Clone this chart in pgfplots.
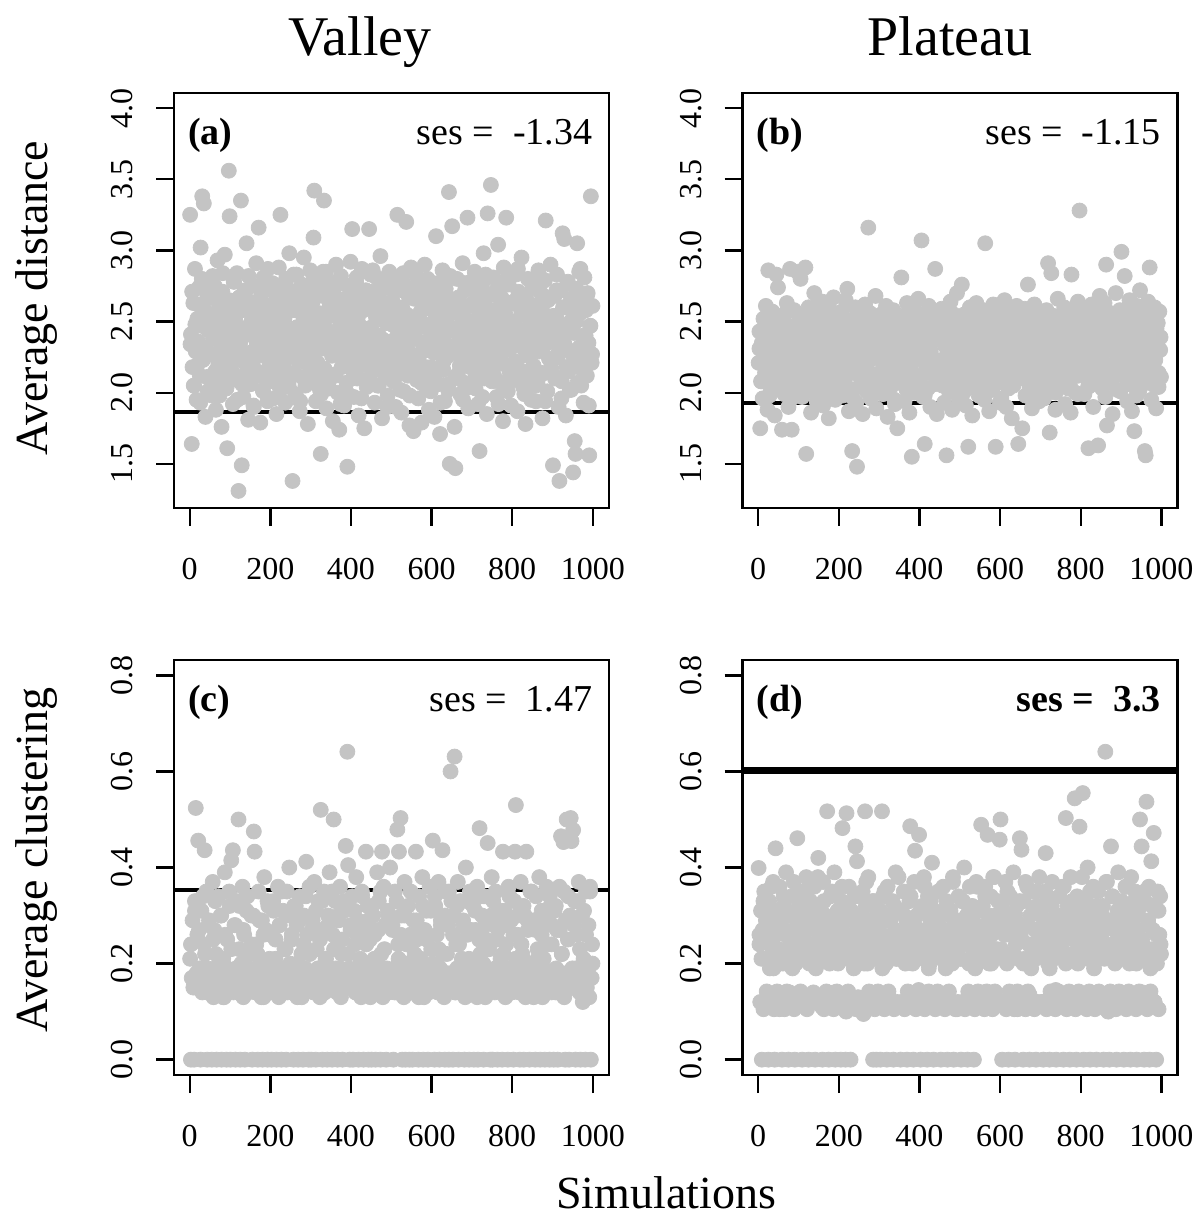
\documentclass[border=0pt]{standalone}
\usepackage{fontspec}
\setmainfont{Liberation Serif}
\usepackage{pgfplots}
\usepackage{pgfplotstable}
\pgfplotsset{compat=1.18}
\definecolor{ptgray}{RGB}{196,196,196}

% Panel (a): Valley, average distance (y values in simulation order)
\pgfplotstableread{
y
3.25
2.41
1.64
2.18
2.63
2.05
2.87
2.29
1.95
2.52
2.36
2.74
2.12
3.02
2.47
3.38
2.23
3.33
2.58
1.83
2.31
2.69
2.01
2.44
2.79
2.27
2.55
1.98
2.82
2.39
2.14
2.66
1.88
2.48
2.93
2.21
2.60
2.08
2.35
1.76
2.71
2.43
2.16
2.97
2.57
2.03
1.61
2.33
3.56
3.24
2.62
2.19
2.45
1.92
2.78
2.30
2.51
2.09
2.84
2.37
1.31
2.67
2.24
3.35
1.49
2.58
1.97
2.41
2.72
2.13
3.05
2.46
1.81
2.28
2.64
2.06
2.49
2.75
2.22
1.90
2.59
2.38
2.91
2.15
2.53
3.16
2.32
1.79
2.68
2.44
2.02
2.81
2.26
2.55
2.11
2.73
1.94
2.40
2.61
2.17
2.50
2.20
2.77
1.96
2.42
2.63
2.10
1.85
2.56
2.34
2.88
2.04
3.25
2.47
2.29
2.70
2.18
2.52
1.93
2.80
2.36
2.65
2.07
2.98
2.25
2.43
2.71
1.38
2.14
2.58
2.30
1.99
2.83
2.46
2.23
2.62
1.87
2.37
2.76
2.11
2.54
2.95
2.28
2.05
2.67
2.40
1.78
2.59
2.19
2.86
2.33
2.12
2.64
3.09
3.42
2.48
1.94
2.73
2.21
2.56
2.39
2.02
1.57
2.69
2.31
2.85
3.35
2.16
2.52
1.89
2.44
2.78
2.08
2.61
2.35
2.57
2.26
1.80
2.70
2.42
2.13
2.90
2.36
2.00
2.60
1.74
2.47
2.82
2.18
2.54
2.29
1.91
2.66
2.39
2.07
1.48
2.75
2.32
2.50
2.92
2.24
3.15
2.49
1.97
2.63
2.35
2.77
2.10
2.53
1.84
2.41
2.68
2.19
2.87
2.30
2.58
1.75
2.45
2.72
2.04
2.38
2.61
3.15
2.27
2.83
2.46
2.15
2.71
2.33
1.93
2.58
2.81
2.22
2.40
2.05
2.67
2.96
2.29
1.82
2.52
2.37
2.74
2.11
2.49
2.62
1.98
2.35
2.85
2.20
2.56
2.31
2.64
2.08
2.47
2.80
1.90
2.39
3.25
2.17
2.55
2.72
2.26
1.86
2.60
2.43
2.01
2.76
2.34
3.20
2.50
2.12
2.68
1.77
2.41
2.88
2.53
2.20
1.73
2.66
2.38
2.83
2.09
2.45
1.96
2.71
2.27
2.57
1.79
2.35
2.62
2.14
2.90
2.48
2.03
2.75
2.30
1.88
2.59
2.42
2.18
2.40
2.69
2.11
1.83
2.52
3.10
2.29
2.77
2.06
2.44
1.71
2.61
2.35
2.86
2.16
2.55
1.94
2.73
2.25
2.48
2.02
3.41
1.50
2.64
2.33
3.17
2.28
2.58
1.76
1.47
2.43
2.80
2.13
2.67
2.37
1.99
2.54
2.21
2.91
2.46
2.07
2.72
2.32
2.60
3.23
1.89
2.50
2.18
2.78
2.39
2.62
2.24
2.49
2.85
2.03
2.70
2.36
1.92
2.57
1.59
2.15
2.44
2.76
2.31
2.98
2.10
2.65
2.41
1.85
3.26
2.53
2.27
2.69
3.46
2.19
2.45
2.81
2.12
2.58
2.34
1.97
2.73
3.04
2.26
2.51
2.07
2.67
2.39
1.80
2.88
2.20
2.55
3.23
2.43
2.01
2.76
2.30
2.63
1.91
2.48
2.37
2.64
2.09
2.50
2.83
2.22
1.87
2.71
2.44
2.16
2.59
2.95
2.32
2.04
2.68
2.40
1.78
2.55
2.27
2.80
2.13
2.47
2.62
1.95
2.35
2.52
2.19
2.74
2.38
1.94
2.61
2.06
2.86
2.29
2.48
2.70
2.14
1.82
2.56
2.33
2.79
3.21
2.42
2.01
2.65
2.24
2.51
2.90
2.17
2.45
1.49
2.36
2.68
2.11
2.54
2.83
2.25
1.90
1.38
2.46
2.72
2.08
3.12
2.39
3.08
2.60
1.84
2.31
2.77
2.15
2.49
2.02
2.66
2.28
2.57
1.44
2.42
1.66
1.57
2.73
3.05
2.18
2.55
2.32
2.87
2.05
2.64
2.40
1.93
2.81
2.26
2.58
2.12
2.70
2.35
1.56
2.47
3.38
2.21
2.61
}\dA

% Panel (a), further simulations in the dense core (every 4th)
\pgfplotstableread{
y
2.34
2.71
2.05
2.48
2.19
2.62
1.93
2.80
2.27
2.53
2.11
2.44
2.67
2.02
2.38
2.75
2.16
2.57
1.98
2.31
2.84
2.23
2.49
2.09
2.65
2.41
2.14
2.78
2.29
1.95
2.59
2.36
2.06
2.70
2.45
2.18
2.82
2.26
2.51
1.91
2.63
2.33
2.12
2.74
2.47
2.01
2.56
2.30
2.87
2.20
2.52
2.08
2.39
2.69
2.24
1.97
2.61
2.43
2.15
2.77
2.35
2.04
2.58
2.28
2.83
2.13
2.46
2.66
1.94
2.37
2.22
2.72
2.50
2.07
2.60
2.25
2.79
2.42
2.10
2.55
2.32
1.99
2.68
2.17
2.85
2.40
2.03
2.64
2.29
2.54
2.12
2.76
2.38
1.92
2.49
2.21
2.62
2.00
2.45
2.73
2.36
2.14
2.57
2.81
2.23
2.47
1.96
2.66
2.31
2.09
2.70
2.44
2.19
2.86
2.27
2.53
2.05
2.40
2.63
2.16
2.78
2.34
1.90
2.58
2.26
2.48
2.71
2.11
2.35
2.60
2.02
2.42
2.84
2.20
2.55
2.30
1.98
2.67
2.13
2.39
2.75
2.24
2.51
2.07
2.64
2.33
2.18
2.80
2.46
2.01
2.59
2.28
2.15
2.73
2.37
1.93
2.52
2.22
2.69
2.43
2.06
2.82
2.31
2.56
2.10
2.45
2.65
2.19
2.38
1.95
2.77
2.27
2.50
2.04
2.62
2.32
2.76
2.12
2.47
2.25
2.61
1.97
2.40
2.83
2.17
2.54
2.35
2.08
2.70
2.29
2.44
1.92
2.66
2.21
2.57
2.03
2.79
2.36
2.14
2.49
2.63
2.20
2.41
2.87
2.09
2.55
2.33
1.99
2.68
2.26
2.46
2.16
2.74
2.39
2.05
2.58
2.30
2.81
2.13
2.51
1.94
2.42
2.67
2.23
2.37
2.54
2.10
2.72
2.28
2.45
1.96
2.60
2.34
2.18
2.78
2.43
2.02
2.65
2.24
2.50
2.07
2.85
2.32
2.57
2.15
2.40
2.69
1.91
2.47
2.27
}\dAx

% Panel (b): Plateau, average distance
\pgfplotstableread{
y
2.21
2.43
1.75
2.08
2.35
1.96
2.52
2.27
2.14
2.61
2.39
1.88
2.86
2.18
2.47
2.02
2.30
2.57
2.11
2.41
1.84
2.25
2.83
2.33
2.74
2.37
2.05
2.48
2.19
1.74
2.29
2.54
1.99
2.40
2.12
2.63
2.33
1.90
2.24
2.87
2.45
1.74
2.07
2.36
2.58
2.16
2.43
2.01
2.85
2.28
2.15
2.42
2.80
2.26
1.97
2.50
2.34
2.09
2.88
1.57
2.38
2.20
2.60
2.03
2.46
1.86
2.31
2.55
2.13
2.70
2.23
2.44
1.94
2.36
2.62
2.32
2.06
2.49
2.18
2.64
1.91
2.39
2.27
2.53
2.00
2.44
2.12
1.82
2.35
2.58
2.22
2.47
2.04
2.67
2.30
1.95
2.41
2.16
2.52
2.26
2.44
2.11
2.36
2.57
1.98
2.29
2.48
2.07
2.65
2.21
2.73
2.40
1.87
2.15
2.51
2.33
1.59
2.02
2.45
2.25
2.60
1.93
1.48
2.38
2.17
2.28
2.53
2.09
2.39
1.85
2.46
2.19
2.62
2.34
2.01
2.42
3.16
2.24
2.56
1.96
2.31
2.13
2.49
2.05
2.37
2.68
1.89
2.27
2.43
2.10
2.40
2.14
2.55
2.23
1.99
2.47
2.32
2.08
2.61
2.36
1.83
2.20
2.50
2.29
2.04
2.42
2.17
2.58
2.35
1.92
2.26
2.45
1.75
2.12
2.53
2.19
2.46
2.81
2.30
2.06
2.52
1.94
2.38
2.15
2.63
2.27
2.43
1.86
2.11
2.34
1.55
2.49
2.22
2.00
2.57
2.33
2.41
2.09
2.66
2.25
2.35
2.10
3.07
2.44
1.97
2.28
1.64
2.54
2.18
2.39
2.03
2.61
2.31
1.90
2.47
2.24
2.56
2.13
2.37
2.87
2.20
1.85
2.50
2.42
2.07
2.48
2.23
2.59
2.05
2.36
1.93
2.44
2.16
1.56
2.52
2.29
2.01
2.40
2.64
2.12
1.88
2.33
2.55
2.21
2.46
2.08
2.70
2.27
1.96
2.38
2.17
2.42
2.76
2.31
2.00
2.55
2.25
1.91
2.47
2.11
1.62
2.37
2.60
2.19
2.44
1.84
2.28
2.51
2.06
2.34
2.63
2.14
2.40
1.98
2.53
2.30
2.05
2.49
2.22
2.58
1.95
3.05
2.38
2.13
2.45
2.27
1.87
2.54
2.18
2.35
2.02
2.62
2.41
2.24
1.62
2.46
2.10
2.32
2.57
1.93
2.43
2.16
2.52
2.29
2.07
2.65
2.36
1.90
2.21
2.48
2.03
2.39
2.57
2.14
1.82
2.33
2.50
2.25
2.42
2.09
2.61
2.19
1.64
2.37
2.55
2.26
2.47
1.75
2.12
2.38
2.59
1.98
2.31
2.44
2.76
2.20
2.04
2.53
2.35
1.89
2.41
2.17
2.62
2.28
2.46
2.08
2.34
2.56
1.94
2.23
2.39
2.14
2.51
2.27
1.96
2.44
2.06
2.58
2.32
2.91
2.19
1.72
2.47
2.84
2.24
2.02
2.54
2.36
1.88
2.42
2.11
2.66
2.29
2.49
2.15
2.33
2.08
2.45
2.21
2.60
1.92
2.37
2.15
2.52
2.03
2.41
2.28
1.86
2.83
2.47
2.18
2.56
2.30
2.00
2.43
2.25
2.64
2.12
3.28
2.38
2.46
2.20
2.53
2.34
1.99
2.40
2.13
2.59
2.27
1.61
2.44
2.05
2.36
2.62
2.17
1.90
2.49
2.23
2.31
2.55
2.09
1.63
2.42
2.68
2.29
2.24
2.50
2.11
2.38
2.63
1.97
2.90
1.77
2.32
2.45
2.07
2.56
2.19
2.41
1.85
2.29
2.52
2.14
2.70
2.36
2.02
2.47
2.25
2.58
2.16
2.99
2.35
2.12
2.48
2.82
2.22
2.57
1.94
2.40
2.06
2.65
2.30
2.44
1.87
2.18
2.53
1.73
2.37
2.09
2.61
2.26
2.46
2.01
2.72
2.33
2.42
2.19
2.55
2.31
1.59
1.56
2.47
2.07
2.64
2.28
2.88
2.39
1.95
2.52
2.14
2.43
2.60
2.23
1.89
2.36
2.49
2.04
2.57
2.30
2.11
}\dB

% Panel (b), further simulations in the dense core (every 5th)
\pgfplotstableread{
y
2.31
2.08
2.45
2.19
2.52
1.98
2.37
2.26
2.14
2.49
2.03
2.41
2.22
2.56
2.11
2.34
1.96
2.47
2.29
2.17
2.53
2.06
2.39
2.24
2.44
2.12
2.50
2.01
2.36
2.27
2.58
2.15
2.42
1.99
2.33
2.20
2.48
2.09
2.38
2.25
2.54
2.04
2.30
2.46
2.13
2.40
1.97
2.35
2.21
2.51
2.18
2.43
2.07
2.32
2.55
2.23
2.10
2.47
2.00
2.37
2.28
2.16
2.52
2.05
2.41
2.26
2.34
1.95
2.49
2.19
2.44
2.12
2.39
2.02
2.57
2.30
2.14
2.46
2.24
2.08
2.53
2.35
1.98
2.42
2.17
2.29
2.50
2.06
2.38
2.21
2.45
2.11
2.33
2.55
2.03
2.40
2.27
2.15
2.48
1.99
2.36
2.22
2.51
2.09
2.43
2.18
2.31
2.04
2.56
2.25
2.39
2.13
2.47
2.01
2.34
2.20
2.52
2.07
2.44
2.28
1.96
2.37
2.16
2.49
2.23
2.41
2.05
2.32
2.54
2.19
2.46
2.10
2.38
2.26
1.97
2.50
2.14
2.43
2.02
2.35
2.57
2.21
2.30
2.08
2.45
2.17
2.39
2.00
2.53
2.27
2.12
2.48
2.24
2.36
2.06
2.51
2.19
2.42
1.99
2.33
2.15
2.55
2.29
2.04
2.44
2.22
2.37
2.11
2.49
2.26
2.03
2.40
2.18
2.52
2.09
2.46
2.31
2.13
2.54
2.01
2.38
2.25
2.43
2.07
2.35
2.20
2.50
1.98
2.41
2.16
2.47
2.28
2.10
2.56
2.23
2.34
2.05
2.45
2.14
2.39
}\dBx

% Panel (c): Valley, average clustering
\pgfplotstableread{
y
0.21
0
0.17
0.29
0.15
0
0.33
0.524
0.18
0.26
0.456
0.16
0.19
0
0.31
0.14
0.18
0.24
0.436
0.16
0.35
0
0.19
0.28
0.15
0.18
0.15
0
0.37
0.13
0.27
0.19
0.22
0
0.16
0.34
0.14
0.18
0.30
0
0.17
0.21
0.13
0.39
0.16
0
0.25
0.18
0.15
0.32
0
0.415
0.17
0.436
0.14
0.28
0
0.19
0.33
0.16
0.50
0.23
0
0.15
0.18
0.36
0.13
0.26
0
0.17
0.31
0.19
0.14
0.22
0.16
0.19
0.30
0
0.16
0.475
0.433
0.14
0.24
0.18
0
0.35
0.15
0.20
0.17
0.29
0
0.13
0.38
0.18
0.27
0.16
0
0.32
0.14
0.19
0.26
0
0.15
0.33
0.18
0.14
0.21
0
0.17
0.36
0.13
0.28
0.19
0
0.16
0.31
0.15
0.23
0.18
0
0.35
0.14
0.17
0.40
0.20
0.17
0.25
0.14
0
0.32
0.19
0.16
0.28
0.13
0
0.18
0.34
0.15
0.22
0.17
0
0.30
0.14
0.19
0.412
0.26
0.16
0
0.36
0.18
0
0.16
0.29
0.14
0.37
0.18
0
0.23
0.15
0.33
0.19
0.13
0.52
0.27
0
0.17
0.35
0.14
0.21
0.18
0
0.30
0.16
0.39
0.15
0.18
0
0.26
0.50
0.15
0.33
0.19
0.14
0
0.29
0.17
0.36
0.13
0.22
0
0.16
0.31
0.18
0.445
0.15
0.641
0.405
0.19
0
0.27
0.15
0.34
0
0.18
0.24
0.14
0.38
0.17
0.29
0
0.16
0.21
0.13
0.35
0.19
0
0.27
0.15
0.433
0.18
0.32
0
0.14
0.25
0.17
0
0.19
0.30
0.14
0.26
0
0.17
0.39
0.15
0.33
0.18
0
0.22
0.433
0.13
0.36
0.16
0.28
0
0.19
0.31
0.14
0.17
0.40
0.15
0.18
0.27
0
0.15
0.35
0.19
0.14
0.479
0.24
0.433
0.16
0.503
0.30
0
0.17
0.13
0.37
0
0.20
0.15
0.32
0.18
0
0.26
0.14
0.16
0
0.29
0.14
0.19
0.433
0.25
0.17
0
0.34
0.15
0.21
0.18
0.38
0
0.13
0.27
0.16
0.31
0.19
0
0.14
0.36
0.17
0.23
0.18
0.456
0.15
0
0.32
0.17
0.26
0.14
0.37
0
0.19
0.29
0.16
0.436
0.22
0.13
0
0.35
0.18
0.15
0.28
0
0.17
0.600
0.33
0.16
0
0.30
0.631
0.14
0.24
0.19
0.37
0
0.17
0.33
0.15
0.21
0.18
0.28
0
0.13
0.40
0.16
0.26
0.19
0
0.35
0.14
0.18
0.19
0.32
0
0.15
0.27
0.17
0.36
0
0.14
0.482
0.22
0.18
0.30
0.16
0
0.34
0.13
0.25
0.19
0.451
0.15
0.29
0
0.17
0.38
0
0.17
0.28
0.14
0.35
0.19
0
0.27
0.16
0.28
0.21
0.15
0
0.433
0.18
0.31
0.13
0.24
0.17
0
0.36
0.15
0.19
0.29
0.14
0.18
0
0.33
0.433
0.530
0.15
0.26
0.19
0.14
0
0.37
0.17
0.22
0.16
0
0.30
0.13
0.433
0.19
0.27
0.15
0
0.35
0.17
0.20
0.15
0.29
0.18
0
0.34
0.14
0.21
0.17
0.38
0
0.16
0.26
0.13
0.19
0.31
0
0.17
0.36
0.15
0.24
0.18
0
0.32
0.14
0.28
0.17
0
0.31
0.14
0.19
0.27
0
0.16
0.36
0.15
0.465
0.22
0.18
0.453
0.13
0
0.29
0.50
0.17
0.34
0
0.15
0.503
0.455
0.19
0.478
0.18
0.33
0
0.15
0.26
0.19
0.37
0.14
0
0.17
0.30
0.12
0.21
0.16
0
0.35
0.15
0.19
0.28
0.13
0.36
0
0.17
0.20
}\dC

% Panel (c), further simulations (every 5th)
\pgfplotstableread{
y
0.24
0.17
0.31
0.15
0.27
0.19
0.34
0.22
0.14
0.29
0.18
0.25
0.33
0.16
0.21
0.30
0.13
0.26
0.19
0.35
0.23
0.15
0.28
0.17
0.32
0.20
0.27
0.14
0.34
0.18
0.24
0.30
0.16
0.22
0.29
0.13
0.26
0.19
0.33
0.21
0.15
0.31
0.25
0.17
0.28
0.35
0.14
0.23
0.18
0.30
0.26
0.16
0.32
0.20
0.29
0.13
0.24
0.34
0.18
0.22
0.27
0.15
0.31
0.19
0.25
0.33
0.14
0.21
0.28
0.17
0.35
0.23
0.16
0.30
0.19
0.25
0.33
0.15
0.22
0.28
0.18
0.31
0.14
0.26
0.20
0.34
0.17
0.24
0.29
0.13
0.32
0.21
0.16
0.27
0.35
0.19
0.23
0.15
0.30
0.18
0.28
0.14
0.33
0.21
0.26
0.17
0.30
0.24
0.16
0.35
0.19
0.22
0.29
0.13
0.27
0.32
0.18
0.25
0.15
0.31
0.20
0.34
0.17
0.23
0.28
0.16
0.30
0.22
0.35
0.18
0.26
0.14
0.32
0.24
0.19
0.29
0.15
0.33
0.21
0.27
0.17
0.31
0.13
0.25
0.34
0.20
0.28
0.16
0.23
0.30
0.33
0.19
0.25
0.15
0.31
0.22
0.28
0.17
0.34
0.14
0.26
0.21
0.30
0.18
0.24
0.32
0.16
0.29
0.20
0.35
0.13
0.27
0.23
0.18
0.31
0.21
0.29
0.16
0.34
0.24
0.18
0.32
0.14
0.27
0.22
0.35
0.17
0.25
0.30
0.15
0.28
0.19
0.33
0.23
0.16
0.31
0.26
0.20
0.35
0.24
}\dCx

% Panel (d): Plateau, average clustering
\pgfplotstableread{
y
0.399
0.24
0.12
0.31
0
0.27
0.105
0.35
0.21
0.29
0.142
0.25
0
0.33
0.19
0.12
0.28
0.22
0.37
0.105
0
0.44
0.26
0.142
0.30
0.23
0.36
0.12
0.28
0
0.20
0.32
0.105
0.26
0.39
0.142
0.22
0
0.30
0.24
0.12
0.34
0.19
0.27
0.105
0
0.31
0.23
0.461
0.12
0.29
0.21
0.142
0.35
0
0.25
0.12
0.31
0.22
0.38
0.105
0.27
0
0.20
0.33
0.12
0.24
0.29
0.14
0.36
0
0.23
0.12
0.28
0.42
0.26
0.12
0.32
0.21
0
0.37
0.105
0.24
0.30
0.142
0.517
0.27
0
0.20
0.34
0.12
0.23
0.29
0.105
0.39
0
0.25
0.142
0.31
0.22
0.24
0.12
0
0.33
0.482
0.21
0.105
0.29
0
0.513
0.26
0.142
0.36
0.22
0
0.31
0.12
0.25
0.19
0.34
0.444
0.105
0.413
0.28
0.23
0.30
0.21
0.12
0.27
0.35
0.095
0.24
0.517
0.32
0.105
0.20
0.38
0.142
0.26
0.29
0.12
0.22
0
0.33
0.105
0.25
0
0.30
0.142
0.21
0.27
0
0.12
0.517
0.34
0.23
0.105
0.30
0.20
0
0.36
0.142
0.25
0.29
0.12
0.22
0.33
0
0.105
0.27
0.39
0.21
0.12
0.31
0.24
0.22
0
0.31
0.12
0.26
0.35
0.105
0.20
0.29
0
0.142
0.24
0.33
0.486
0.12
0.27
0.21
0
0.37
0.435
0.105
0.30
0.23
0.142
0.468
0.25
0
0.12
0.32
0.21
0.38
0.105
0.27
0.23
0
0.34
0.142
0.20
0.29
0.12
0.41
0.24
0
0.31
0.105
0.26
0.22
0.142
0.35
0.28
0.30
0
0.21
0.12
0.36
0.25
0.105
0.19
0.33
0
0.27
0.142
0.23
0.31
0.12
0.20
0.38
0
0.26
0.105
0.29
0.22
0.12
0.34
0.24
0.21
0
0.33
0.12
0.27
0.40
0.105
0.24
0.30
0
0.142
0.20
0.36
0.26
0.12
0.32
0.22
0
0.105
0.28
0.37
0.23
0.142
0.31
0.25
0.27
0.489
0.12
0.32
0.21
0.105
0.36
0.24
0.142
0.468
0.29
0.20
0.12
0.34
0.26
0.105
0.22
0.38
0.142
0.30
0.23
0.12
0.33
0.27
0.458
0.50
0.23
0
0.31
0.12
0.26
0.37
0.105
0.20
0.29
0
0.142
0.34
0.22
0.12
0.27
0.39
0.105
0
0.24
0.32
0.142
0.21
0.28
0.461
0.26
0.437
0.12
0
0.33
0.21
0.105
0.28
0.36
0.142
0.24
0
0.30
0.19
0.12
0.35
0.23
0.105
0.27
0
0.32
0.12
0.22
0.38
0.25
0.31
0.22
0.12
0
0.27
0.35
0.43
0.105
0.24
0.20
0.33
0
0.142
0.29
0.37
0.12
0.21
0.26
0.105
0
0.30
0.23
0.142
0.34
0.28
0.24
0.12
0.36
0
0.21
0.29
0.503
0.105
0.32
0.26
0.142
0
0.38
0.22
0.12
0.30
0.25
0.544
0.105
0
0.34
0.20
0.142
0.485
0.27
0.29
0.21
0.555
0
0.12
0.33
0.25
0.105
0.40
0.23
0.142
0
0.31
0.27
0.12
0.36
0.20
0.105
0.28
0
0.24
0.35
0.142
0.22
0.30
0.26
0.12
0.32
0
0.21
0.641
0.105
0.37
0.24
0.29
0
0.142
0.444
0.22
0.34
0.12
0.27
0.20
0.105
0
0.31
0.39
0.142
0.25
0.23
0.33
0.22
0.12
0
0.28
0.36
0.105
0.24
0.31
0.142
0.20
0
0.38
0.26
0.12
0.30
0.23
0.35
0.105
0
0.27
0.21
0.142
0.50
0.32
0.444
0.25
0.12
0
0.33
0.21
0.537
0.105
0.29
0.36
0
0.142
0.413
0.23
0.27
0.472
0.12
0.31
0
0.20
0.35
0.105
0.26
0.34
0.22
}\dD

% Panel (d), further simulations (every 5th)
\pgfplotstableread{
y
0.26
0.21
0.33
0.12
0.29
0.24
0.36
0.19
0.31
0.23
0.105
0.27
0.34
0.22
0.30
0.14
0.25
0.37
0.20
0.28
0.32
0.24
0.125
0.35
0.21
0.29
0.23
0.31
0.19
0.38
0.26
0.11
0.33
0.22
0.28
0.24
0.35
0.14
0.30
0.20
0.27
0.36
0.23
0.10
0.32
0.25
0.29
0.21
0.34
0.13
0.24
0.30
0.20
0.37
0.27
0.22
0.33
0.115
0.28
0.25
0.31
0.19
0.35
0.23
0.135
0.29
0.26
0.32
0.21
0.38
0.24
0.12
0.30
0.27
0.22
0.34
0.20
0.28
0.25
0.145
0.31
0.23
0.36
0.26
0.19
0.33
0.11
0.29
0.22
0.35
0.27
0.24
0.13
0.32
0.20
0.30
0.37
0.25
0.105
0.28
0.21
0.33
0.26
0.12
0.31
0.24
0.29
0.19
0.36
0.22
0.27
0.14
0.34
0.25
0.30
0.20
0.38
0.23
0.115
0.28
0.32
0.21
0.26
0.35
0.13
0.27
0.22
0.30
0.105
0.33
0.25
0.20
0.37
0.28
0.135
0.24
0.31
0.21
0.35
0.26
0.12
0.29
0.23
0.34
0.19
0.32
0.27
0.145
0.25
0.30
0.23
0.36
0.20
0.28
0.11
0.33
0.26
0.22
0.31
0.24
0.38
0.125
0.29
0.21
0.35
0.27
0.19
0.32
0.14
0.25
0.30
0.23
0.37
0.10
0.28
0.34
0.24
0.21
0.29
0.13
0.31
0.26
0.36
0.22
0.115
0.27
0.33
0.20
0.30
0.25
0.14
0.35
0.23
0.28
0.19
0.32
0.12
0.26
0.31
0.24
}\dDx

\pgfplotsset{
  panel/.style={
    scale only axis, width=217.5pt, height=207.5pt, anchor=south west,
    xmin=-39, xmax=1040, xtick={0,200,400,600,800,1000},
    tick pos=left, tick align=outside,
    major tick length=9pt,
    axis line style={line width=1.2pt},
    every tick/.append style={line width=1.2pt, black},
    tick label style={font=\fontsize{16}{16}\selectfont},
    /pgf/number format/assume math mode=true,
    xticklabel style={/pgf/number format/1000 sep={}, yshift=-12.5pt},
    yticklabel style={/pgf/number format/fixed, /pgf/number format/fixed zerofill,
      /pgf/number format/precision=1, rotate=90, anchor=south, yshift=7.75pt},
    clip=true,
  },
  pts/.style={only marks, mark=*, mark size=3.75pt, color=ptgray,
    mark options={draw=none, fill=ptgray}},
}
\tikzset{
  plab/.style={anchor=base west, inner sep=0pt, font=\fontsize{19}{19}\selectfont\bfseries},
  slab/.style={anchor=base east, inner sep=0pt, font=\fontsize{19}{19}\selectfont},
}

\begin{document}
\begin{tikzpicture}
\useasboundingbox (0pt,0pt) rectangle (600.5pt,-614pt);

% (a)
\begin{axis}[panel, at={(87pt,-253.85pt)}, ymin=1.192, ymax=4.108, ytick={1.5,2,2.5,3,3.5,4}]
\addplot[pts] table[x expr=2*\coordindex+1, y=y] {\dA};
\addplot[pts] table[x expr=4*\coordindex+2, y=y] {\dAx};
\addplot[black, line width=2pt] coordinates {(-39,1.862) (1040,1.862)};
\node[plab] at (rel axis cs:0.032,0.876) {(a)};
\node[slab] at (rel axis cs:0.963,0.876) {ses =\ \ -1.34};
\end{axis}

% (b)
\begin{axis}[panel, at={(371.25pt,-253.85pt)}, ymin=1.192, ymax=4.108, ytick={1.5,2,2.5,3,3.5,4}]
\addplot[pts] table[x expr=2*\coordindex+1, y=y] {\dB};
\addplot[pts] table[x expr=5*\coordindex+3, y=y] {\dBx};
\addplot[black, line width=2pt] coordinates {(-39,1.928) (1040,1.928)};
\node[plab] at (rel axis cs:0.032,0.876) {(b)};
\node[slab] at (rel axis cs:0.963,0.876) {ses =\ \ -1.15};
\end{axis}

% (c)
\begin{axis}[panel, at={(87pt,-537.5pt)}, ymin=-0.032, ymax=0.832, ytick={0,0.2,0.4,0.6,0.8}]
\addplot[pts] table[x expr=2*\coordindex+1, y=y] {\dC};
\addplot[pts] table[x expr=5*\coordindex+3, y=y] {\dCx};
\addplot[black, line width=2pt] coordinates {(-39,0.354) (1040,0.354)};
\node[plab] at (rel axis cs:0.032,0.876) {(c)};
\node[slab] at (rel axis cs:0.963,0.876) {ses =\ \ 1.47};
\end{axis}

% (d)
\begin{axis}[panel, at={(371.25pt,-537.5pt)}, ymin=-0.032, ymax=0.832, ytick={0,0.2,0.4,0.6,0.8}]
\addplot[pts] table[x expr=2*\coordindex+1, y=y] {\dD};
\addplot[pts] table[x expr=5*\coordindex+3, y=y] {\dDx};
\addplot[black, line width=3.5pt] coordinates {(-39,0.601) (1040,0.601)};
\node[plab] at (rel axis cs:0.032,0.876) {(d)};
\node[slab, font=\fontsize{19}{19}\selectfont\bfseries] at (rel axis cs:0.963,0.876) {ses =\ \ 3.3};
\end{axis}

% titles and axis labels
\node[anchor=base, font=\fontsize{28}{28}\selectfont] at (180pt,-27.5pt) {Valley};
\node[anchor=base, font=\fontsize{28}{28}\selectfont] at (475pt,-27.5pt) {Plateau};
\node[anchor=base, rotate=90, font=\fontsize{23}{23}\selectfont] at (23.5pt,-149pt) {Average distance};
\node[anchor=base, rotate=90, font=\fontsize{23}{23}\selectfont] at (23.5pt,-430pt) {Average clustering};
\node[anchor=base, font=\fontsize{23}{23}\selectfont] at (333pt,-604pt) {Simulations};
\end{tikzpicture}
\end{document}
